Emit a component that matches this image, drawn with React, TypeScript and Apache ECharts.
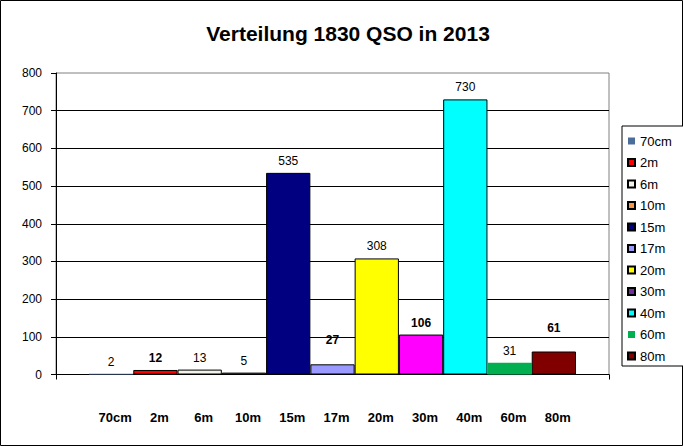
import React, { useEffect, useRef } from "react";
import * as echarts from "echarts";

const titleText = "Verteilung 1830 QSO in 2013";
const categories = ["70cm", "2m", "6m", "10m", "15m", "17m", "20m", "30m", "40m", "60m", "80m"];
const values = [2, 12, 13, 5, 535, 27, 308, 106, 730, 31, 61];
const barColors = ["#4A6D9C", "#FF0000", "#F2F2EA", "#F79646", "#000080", "#9999FF", "#FFFF00", "#FF00FF", "#00FFFF", "#00B050", "#800000"];
const legendColors = ["#4A6D9C", "#FF0000", "#F2F2EA", "#F79646", "#000080", "#9999FF", "#FFFF00", "#7030A0", "#00FFFF", "#00B050", "#800000"];
const boldLabels = [false, true, false, false, false, true, false, true, false, false, true];
const labelLift = [0, 0, 0, 0, 0, 12, 0, 0, 0, 0, 12];
const barBorders = [0, 1, 1, 1, 1, 1, 1, 1, 1, 0, 1];
const yMin = 0;
const yMax = 800;
const yStep = 100;

const FONT = "'Liberation Sans', Arial, sans-serif";

export default function App() {
  const ref = useRef<HTMLDivElement>(null);
  useEffect(() => {
    document.body.style.margin = "0";
    const chart = echarts.init(ref.current!, null, { renderer: "svg" });
    const series = categories.map((name, i) => ({
      name,
      type: "bar",
      xAxisIndex: 1,
      yAxisIndex: 1,
      stack: "all",
      barWidth: "100%",
      itemStyle: {
        color: legendColors[i],
        borderColor: "#000",
        borderWidth: barBorders[i],
      },
      label: {
        show: true,
        position: "top",
        distance: 6,
        offset: [0, -labelLift[i]],
        color: "#000",
        fontFamily: FONT,
        fontSize: 12,
        fontWeight: boldLabels[i] ? "bold" : "normal",
        formatter: () => String(values[i]),
      },
      data: categories.map((_, j) =>
        j === i ? { value: values[i], itemStyle: { color: barColors[i] } } : "-"
      ),
    }));
    chart.setOption({
      animation: false,
      backgroundColor: "#fff",
      textStyle: { fontFamily: FONT },
      title: {
        text: titleText,
        left: 343,
        textAlign: "center",
        top: 18,
        textStyle: { fontFamily: FONT, fontSize: 21, fontWeight: "bold", color: "#000" },
      },
      graphic: [
        {
          type: "rect",
          shape: { x: 0.5, y: 0.5, width: 682, height: 445 },
          style: { fill: "none", stroke: "#000", lineWidth: 1 },
          silent: true,
        },
      ],
      legend: {
        orient: "vertical",
        left: 622,
        top: 126,
        padding: [8, 16, 3, 5],
        itemGap: 7.5,
        itemWidth: 7,
        itemHeight: 7,
        icon: "rect",
        borderColor: "#000",
        borderWidth: 1,
        backgroundColor: "#fff",
        textStyle: { fontFamily: FONT, fontSize: 13, color: "#000", lineHeight: 14 },
        data: categories,
      },
      grid: [
        { left: 56, right: 74, top: 73, bottom: 71.5, show: true, borderColor: "#808080", borderWidth: 1, backgroundColor: "#fff" },
        { left: 89, right: 107, top: 73, bottom: 71.5 },
      ],
      xAxis: [
        {
          type: "category",
          gridIndex: 0,
          data: [""],
          axisLine: { show: true, lineStyle: { color: "#000", width: 1 } },
          axisTick: { show: true, length: 5, lineStyle: { color: "#000" } },
          axisLabel: { show: false },
        },
        {
          type: "category",
          gridIndex: 1,
          data: categories,
          axisLine: { show: false },
          axisTick: { show: false },
          axisLabel: { show: true, margin: 36, padding: [0, 0, 0, 8], fontFamily: FONT, fontSize: 13, fontWeight: "bold", color: "#000" },
        },
      ],
      yAxis: [
        {
          type: "value",
          gridIndex: 0,
          min: yMin,
          max: yMax,
          interval: yStep,
          axisLine: { show: true, lineStyle: { color: "#000", width: 1 } },
          axisTick: { show: true, inside: false, length: 5, lineStyle: { color: "#000" } },
          axisLabel: { margin: 14, fontFamily: FONT, fontSize: 12, color: "#000" },
          splitLine: { show: true, showMaxLine: false, lineStyle: { color: "#000", width: 1 } },
        },
        {
          type: "value",
          gridIndex: 1,
          min: yMin,
          max: yMax,
          interval: yStep,
          show: false,
          splitLine: { show: false },
        },
      ],
      series,
    });
    return () => chart.dispose();
  }, []);
  return <div ref={ref} style={{ position: "fixed", left: 0, top: 0, width: 683, height: 446 }} />;
}
